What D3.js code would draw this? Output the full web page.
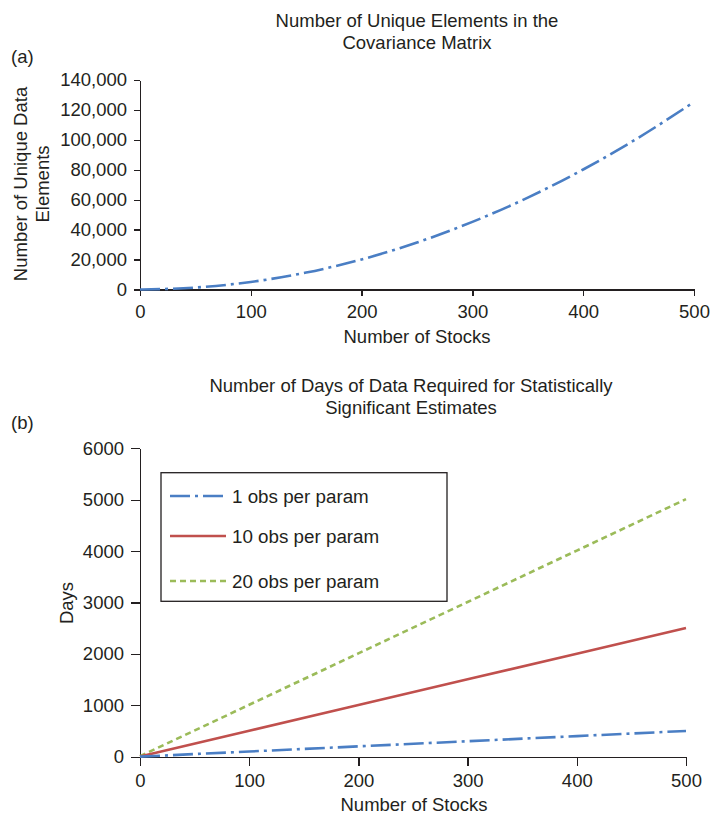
<!DOCTYPE html>
<html>
<head>
<meta charset="utf-8">
<script src="https://cdn.jsdelivr.net/npm/d3@7"></script>
<style>
  html, body { margin: 0; padding: 0; background: #fff; }
  svg { display: block; font-family: "Liberation Sans", Arial, Helvetica, sans-serif; }
  .axis path, .axis line { stroke: #231f20; stroke-width: 1.3px; shape-rendering: crispEdges; }
  .axis text { fill: #231f20; font-size: 18.5px; }
  text { fill: #231f20; }
</style>
</head>
<body>
<svg id="chart" width="710" height="814"></svg>
<script>
// ---------- Data ----------
// (a) Number of unique elements in covariance matrix
const stocksA = [0, 50, 100, 150, 200, 250, 300, 350, 400, 450, 500];
const uniqueElements = [0, 1300, 5050, 11300, 20100, 31400, 45200, 61400, 80200, 101500, 125300];
const yTicksA = [0, 20000, 40000, 60000, 80000, 100000, 120000, 140000];
const xTicks = [0, 100, 200, 300, 400, 500];

// (b) Days of data required
const stocksB = [0, 100, 200, 300, 400, 500];
const obs1 = [1, 101, 201, 301, 401, 501];
const obs10 = [5, 505, 1005, 1505, 2005, 2505];
const obs20 = [10, 1010, 2010, 3010, 4010, 5010];
const yTicksB = [0, 1000, 2000, 3000, 4000, 5000, 6000];
const seriesNames = ["1 obs per param", "10 obs per param", "20 obs per param"];
const seriesColors = ["#4a7ec4", "#c0504d", "#9bbb59"];
const seriesDash = ["20,5,3,5", null, "6,4"];

const FS = "18.5px";
const svg = d3.select("#chart");
const fmtComma = d3.format(",");

// ---------- Chart (a) ----------
const xA = d3.scaleLinear().domain([0, 500]).range([140, 694]);
const yA = d3.scaleLinear().domain([0, 140000]).range([289.5, 80]);

svg.append("g").attr("class", "axis")
  .attr("transform", "translate(0,289.5)")
  .call(d3.axisBottom(xA).tickValues(xTicks).tickSize(6).tickPadding(9).tickSizeOuter(0));
svg.append("g").attr("class", "axis")
  .attr("transform", "translate(140,0)")
  .call(d3.axisLeft(yA).tickValues(yTicksA).tickSize(6).tickPadding(7).tickSizeOuter(0).tickFormat(fmtComma));

svg.append("path")
  .datum(stocksA.map((s, i) => [s, uniqueElements[i]]))
  .attr("fill", "none")
  .attr("stroke", seriesColors[0])
  .attr("stroke-width", 2.6)
  .attr("stroke-dasharray", seriesDash[0])
  .attr("d", d3.line().x(d => xA(d[0])).y(d => yA(d[1])).curve(d3.curveMonotoneX));

svg.append("text").attr("x", 417).attr("y", 27).attr("text-anchor", "middle")
  .style("font-size", FS).text("Number of Unique Elements in the");
svg.append("text").attr("x", 417).attr("y", 49).attr("text-anchor", "middle")
  .style("font-size", FS).text("Covariance Matrix");
svg.append("text").attr("x", 11).attr("y", 63).style("font-size", FS).text("(a)");
svg.append("text").attr("x", 417).attr("y", 343).attr("text-anchor", "middle")
  .style("font-size", FS).text("Number of Stocks");
svg.append("text").attr("transform", "translate(27,184) rotate(-90)").attr("text-anchor", "middle")
  .style("font-size", FS).text("Number of Unique Data");
svg.append("text").attr("transform", "translate(49,184) rotate(-90)").attr("text-anchor", "middle")
  .style("font-size", FS).text("Elements");

// ---------- Chart (b) ----------
const xB = d3.scaleLinear().domain([0, 500]).range([140, 686]);
const yB = d3.scaleLinear().domain([0, 6000]).range([756.7, 448.3]);

svg.append("g").attr("class", "axis")
  .attr("transform", "translate(0,756.7)")
  .call(d3.axisBottom(xB).tickValues(xTicks).tickSize(9).tickPadding(8).tickSizeOuter(0));
svg.append("g").attr("class", "axis")
  .attr("transform", "translate(140,0)")
  .call(d3.axisLeft(yB).tickValues(yTicksB).tickSize(9).tickPadding(7).tickSizeOuter(0).tickFormat(d3.format("d")));

const seriesB = [obs1, obs10, obs20];
const lineB = d3.line().x(d => xB(d[0])).y(d => yB(d[1]));
// draw in order: green, red, blue on top
[2, 1, 0].forEach(k => {
  svg.append("path")
    .datum(stocksB.map((s, i) => [s, seriesB[k][i]]))
    .attr("fill", "none")
    .attr("stroke", seriesColors[k])
    .attr("stroke-width", 2.6)
    .attr("stroke-dasharray", seriesDash[k])
    .attr("d", lineB);
});

svg.append("text").attr("x", 411).attr("y", 392).attr("text-anchor", "middle")
  .style("font-size", FS).text("Number of Days of Data Required for Statistically");
svg.append("text").attr("x", 411).attr("y", 414).attr("text-anchor", "middle")
  .style("font-size", FS).text("Significant Estimates");
svg.append("text").attr("x", 11).attr("y", 429).style("font-size", FS).text("(b)");
svg.append("text").attr("x", 414).attr("y", 811).attr("text-anchor", "middle")
  .style("font-size", FS).text("Number of Stocks");
svg.append("text").attr("transform", "translate(73,603) rotate(-90)").attr("text-anchor", "middle")
  .style("font-size", FS).text("Days");

// Legend
const legend = svg.append("g");
legend.append("rect").attr("x", 161).attr("y", 472.7).attr("width", 286).attr("height", 128.6)
  .attr("fill", "#fff").attr("stroke", "#231f20").attr("stroke-width", 1.3);
const rowY = [496, 536, 581];
seriesNames.forEach((name, i) => {
  legend.append("line").attr("x1", 170).attr("x2", 226).attr("y1", rowY[i]).attr("y2", rowY[i])
    .attr("stroke", seriesColors[i]).attr("stroke-width", 2.6)
    .attr("stroke-dasharray", seriesDash[i]);
  legend.append("text").attr("x", 232).attr("y", rowY[i]).attr("dy", "0.35em")
    .style("font-size", "18.8px").text(name);
});
</script>
</body>
</html>
